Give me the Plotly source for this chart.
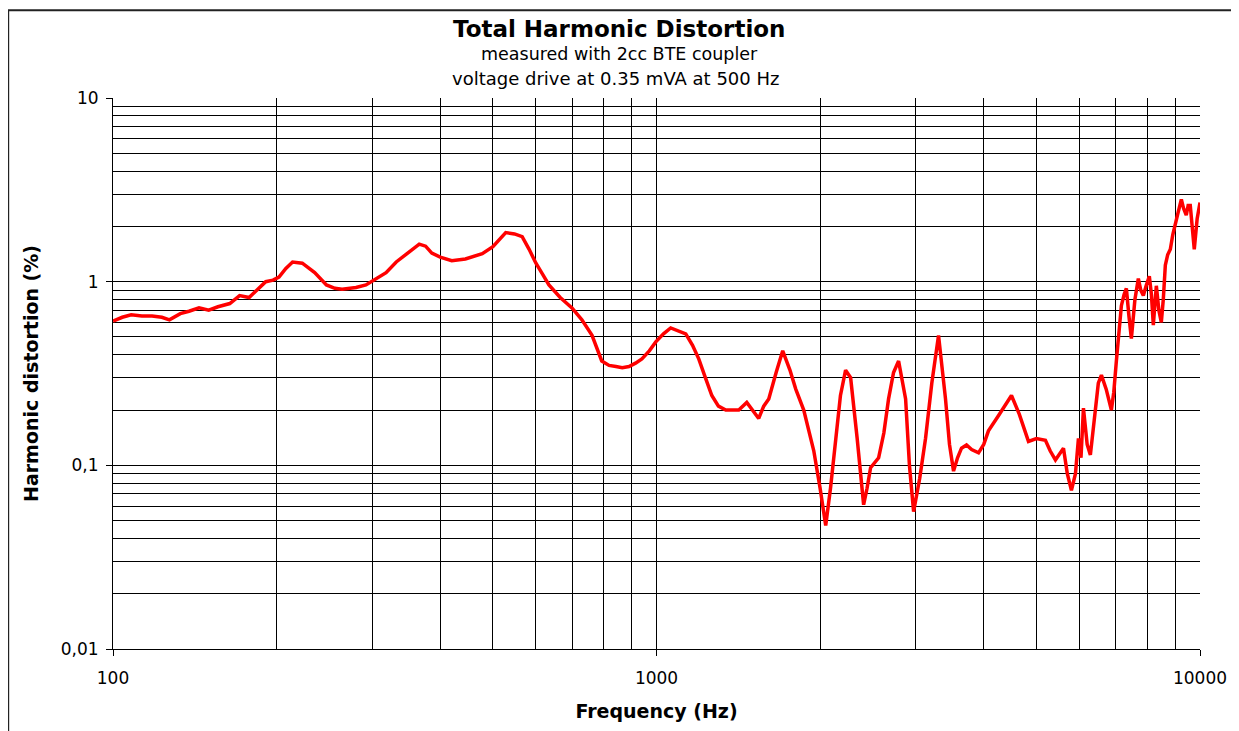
import plotly.graph_objects as go

# ---- data ----
freq_hz = [100, 104, 108, 113, 118, 123, 127, 133, 138, 144, 150, 156, 164, 171, 178, 185, 191, 197,
           202, 208, 214, 223, 235, 247, 256, 264, 280, 292, 305, 318, 332, 348, 366, 376, 386, 400,
           420, 445, 478, 500, 528, 548, 566, 583, 600, 617, 634, 665, 699, 729, 761, 793, 818, 842,
           865, 890, 915, 940, 970, 997, 1030, 1062, 1100, 1132, 1165, 1196, 1230, 1264, 1300, 1341,
           1380, 1417, 1466, 1500, 1542, 1575, 1609, 1660, 1707, 1760, 1804, 1866, 1947, 2000, 2048,
           2090, 2136, 2180, 2228, 2276, 2340, 2405, 2440, 2477, 2563, 2620, 2673, 2730, 2789, 2873,
           2920, 2972, 3050, 3126, 3210, 3303, 3402, 3460, 3520, 3580, 3641, 3719, 3800, 3913, 4000,
           4081, 4257, 4499, 4650, 4835, 5000, 5195, 5300, 5420, 5608, 5700, 5800, 5900, 5975, 6040,
           6103, 6200, 6285, 6350, 6420, 6500, 6586, 6720, 6870, 6940, 7017, 7090, 7167, 7250, 7320,
           7400, 7477, 7590, 7701, 7780, 7866, 7960, 8068, 8140, 8206, 8260, 8311, 8400, 8489, 8560,
           8634, 8720, 8819, 8910, 9008, 9120, 9240, 9330, 9434, 9510, 9596, 9680, 9760, 9880, 10000]

thd_pct = [0.61, 0.64, 0.66, 0.65, 0.65, 0.64, 0.62, 0.67, 0.69, 0.72, 0.70, 0.73, 0.76, 0.84, 0.82, 0.92, 1.0, 1.02,
           1.06, 1.18, 1.28, 1.26, 1.12, 0.96, 0.92, 0.91, 0.93, 0.96, 1.04, 1.12, 1.28, 1.42, 1.6, 1.56, 1.43, 1.36,
           1.30, 1.33, 1.42, 1.55, 1.85, 1.82, 1.76, 1.50, 1.26, 1.10, 0.96, 0.82, 0.72, 0.62, 0.51, 0.37, 0.35, 0.345,
           0.34, 0.345, 0.36, 0.38, 0.42, 0.47, 0.52, 0.56, 0.54, 0.52, 0.45, 0.38, 0.30, 0.24, 0.21, 0.20,
           0.20, 0.20, 0.22, 0.20, 0.18, 0.21, 0.23, 0.32, 0.42, 0.33, 0.26, 0.20, 0.12, 0.075, 0.047,
           0.075, 0.135, 0.24, 0.33, 0.30, 0.14, 0.061, 0.075, 0.097, 0.11, 0.15, 0.23, 0.32, 0.37, 0.23,
           0.10, 0.056, 0.085, 0.14, 0.28, 0.51, 0.23, 0.13, 0.093, 0.11, 0.124, 0.129, 0.122, 0.117, 0.13,
           0.154, 0.186, 0.24, 0.19, 0.135, 0.14, 0.137, 0.12, 0.107, 0.124, 0.09, 0.073, 0.09, 0.14, 0.11,
           0.205, 0.13, 0.114, 0.15, 0.205, 0.28, 0.31, 0.26, 0.20, 0.25, 0.37, 0.55, 0.74, 0.85, 0.92,
           0.65, 0.49, 0.80, 1.04, 0.90, 0.84, 0.95, 1.07, 0.85, 0.58, 0.75, 0.95, 0.70, 0.60, 0.80,
           1.23, 1.4, 1.5, 1.8, 2.1, 2.4, 2.8, 2.5, 2.3, 2.6, 2.6, 2.0, 1.5, 2.2, 2.7]

x_tick_vals = [100, 1000, 10000]
x_tick_text = ["100", "1000", "10000"]
y_tick_vals = [0.01, 0.1, 1, 10]
y_tick_text = ["0,01", "0,1", "1", "10"]

title_text = "Total Harmonic Distortion"
subtitle_1 = "measured with 2cc BTE coupler"
subtitle_2 = "voltage drive at 0.35 mVA at 500 Hz"
x_title = "Frequency (Hz)"
y_title = "Harmonic distortion (%)"

# minor grid positions (2..9 within each decade)
x_minor = [m * 10 ** k for k in (2, 3) for m in range(2, 10)]
y_minor = [m * 10 ** k for k in (-2, -1, 0) for m in range(2, 10)]

FONT = "DejaVu Sans"

fig = go.Figure()
fig.add_trace(go.Scatter(x=freq_hz, y=thd_pct, mode="lines",
                         line=dict(color="#ff0000", width=3.5), showlegend=False))

# page has an 8px body margin; figure coordinates = page coordinates - 8
OFF = 8
W, H = 1231, 723
L, T = 113 - OFF, 98 - OFF
R = W - (1202 - OFF)
B = H - (651 - OFF)
pw, ph = W - L - R, H - T - B

def px(x):
    return (x - OFF - L) / pw

def py(y):
    return (H - B - (y - OFF)) / ph

axis_common = dict(type="log", showline=True, linecolor="#000000", linewidth=1,
                   showgrid=True, gridcolor="#000000", gridwidth=1,
                   ticks="outside", ticklen=6, tickcolor="#000000", tickwidth=1,
                   tickfont=dict(family=FONT, size=17, color="#000000"),
                   zeroline=False, mirror=False)

fig.update_xaxes(**axis_common, range=[2, 4], tickmode="array",
                 tickvals=x_tick_vals, ticktext=x_tick_text, ticklabelstandoff=8,
                 minor=dict(tickmode="array", tickvals=x_minor, showgrid=True,
                            gridcolor="#000000", gridwidth=1, ticks=""),
                 title=dict(text="<b>" + x_title + "</b>", standoff=17,
                            font=dict(family=FONT, size=19, color="#000000")))
fig.update_yaxes(**axis_common, range=[-2, 1], tickmode="array",
                 tickvals=y_tick_vals, ticktext=y_tick_text, ticklabelstandoff=4,
                 minor=dict(tickmode="array", tickvals=y_minor, showgrid=True,
                            gridcolor="#000000", gridwidth=1, ticks=""),
                 title=dict(text="<b>" + y_title + "</b>", standoff=17,
                            font=dict(family=FONT, size=19, color="#000000")))

fig.update_layout(
    width=W, height=H,
    margin=dict(l=L, r=R, t=T, b=B, pad=0),
    paper_bgcolor="#ffffff", plot_bgcolor="#ffffff",
    font=dict(family=FONT, color="#000000"),
    annotations=[
        dict(text="<b>" + title_text + "</b>", x=px(620), y=py(29), xref="paper", yref="paper",
             showarrow=False, xanchor="center", yanchor="middle",
             font=dict(family=FONT, size=23, color="#000000")),
        dict(text=subtitle_1, x=px(620), y=py(54), xref="paper", yref="paper",
             showarrow=False, xanchor="center", yanchor="middle",
             font=dict(family=FONT, size=17.5, color="#000000")),
        dict(text=subtitle_2, x=px(616), y=py(78), xref="paper", yref="paper",
             showarrow=False, xanchor="center", yanchor="middle",
             font=dict(family=FONT, size=18, color="#000000")),
    ],
    shapes=[
        dict(type="rect", xref="paper", yref="paper",
             x0=px(8), x1=px(1235), y0=py(745), y1=py(10),
             line=dict(color="#222222", width=2), fillcolor="rgba(0,0,0,0)", layer="below"),
    ],
)

fig.write_html("out.html")
